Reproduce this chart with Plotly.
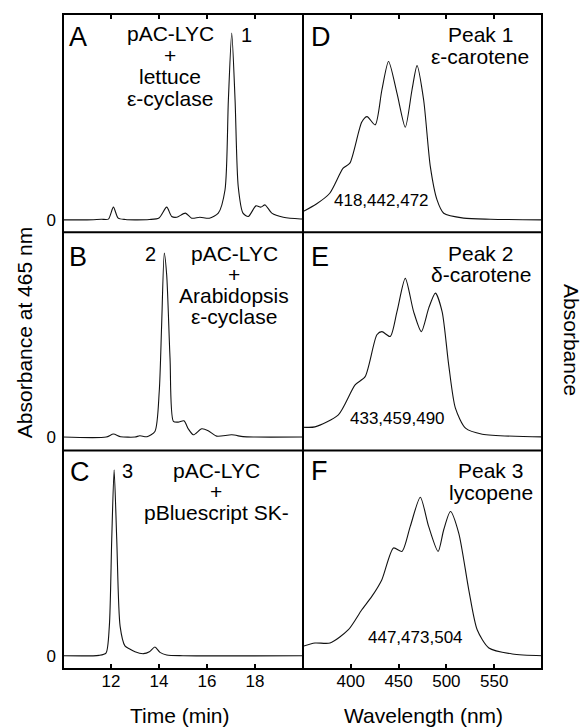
import plotly.graph_objects as go

# ---------------- data ----------------
# HPLC chromatograms (time in min, absorbance at 465 nm, relative)
time_A = [10.0, 11.0, 11.6, 11.89, 12.1, 12.3, 12.6, 13.0, 13.6, 14.0, 14.32, 14.53, 14.74, 15.1, 15.36, 15.7,
          16.1, 16.47, 16.75, 16.89, 17.03, 17.17, 17.3, 17.5, 17.72, 18.04, 18.24, 18.42, 18.7, 19.18, 19.9, 20.0]
abs_A = [0.0, 0.0, 0.003, 0.004, 0.068, 0.009, 0.002, 0.0, 0.002, 0.01, 0.068, 0.018, 0.014, 0.036, 0.009, 0.014,
         0.009, 0.036, 0.16, 0.64, 1.0, 0.64, 0.18, 0.036, 0.018, 0.075, 0.068, 0.08, 0.036, 0.014, 0.005, 0.005]

time_B = [10.0, 11.8, 12.1, 12.4, 13.0, 13.2, 13.5, 13.83, 14.01, 14.11, 14.22, 14.32, 14.46, 14.6, 14.8, 15.04,
          15.22, 15.43, 15.78, 16.05, 16.4, 17.03, 17.5, 18.0, 20.0]
abs_B = [0.0, 0.0, 0.016, 0.002, 0.0, 0.007, 0.002, 0.03, 0.244, 0.60, 0.984, 0.868, 0.42, 0.084, 0.08, 0.087,
         0.044, 0.012, 0.044, 0.034, 0.005, 0.012, 0.002, 0.0, 0.0]

time_C = [10.0, 11.5, 11.79, 11.93, 12.03, 12.13, 12.24, 12.38, 12.58, 12.78, 13.0, 13.35, 13.6, 13.83, 14.04,
          14.32, 15.0, 20.0]
abs_C = [0.0, 0.002, 0.014, 0.157, 0.62, 0.995, 0.62, 0.157, 0.053, 0.036, 0.021, 0.011, 0.021, 0.047, 0.018,
         0.004, 0.0, 0.0]

# absorption spectra (wavelength in nm, normalised absorbance)
wl_D = [350, 364, 378, 392, 399, 411.5, 417, 425.5, 432.5, 439.5, 448.3, 457, 464, 469.3, 476.2, 483.2, 490.2,
        497.2, 518, 546, 600]
spec_D = [0.052, 0.10, 0.168, 0.326, 0.358, 0.618, 0.652, 0.60, 0.82, 1.0, 0.80, 0.585, 0.82, 0.974, 0.757,
          0.336, 0.126, 0.042, 0.011, 0.004, 0.0]

wl_E = [350, 362.5, 387, 404.5, 415, 427.3, 432.5, 441.2, 448.3, 457, 465.7, 473.8, 481.5, 488.5, 495.5, 502.4,
        509.4, 520, 537.5, 600]
spec_E = [0.061, 0.063, 0.139, 0.328, 0.38, 0.644, 0.664, 0.633, 0.79, 1.0, 0.79, 0.664, 0.812, 0.907, 0.79,
          0.454, 0.181, 0.055, 0.017, 0.0]

wl_F = [350, 362.5, 378.3, 397.5, 411.5, 422, 432.5, 444.7, 453.5, 462.2, 472.7, 481.4, 491.3, 497.2, 504.2,
        512.9, 523.4, 532.2, 544.4, 569, 600]
spec_F = [0.059, 0.08, 0.08, 0.164, 0.29, 0.374, 0.48, 0.68, 0.658, 0.816, 1.0, 0.816, 0.658, 0.795, 0.91,
          0.774, 0.416, 0.164, 0.049, 0.011, 0.0]

time_ticks = [12, 14, 16, 18]
wl_ticks = [400, 450, 500, 550]

panel_letters = ["A", "B", "C", "D", "E", "F"]
constructs = [["pAC-LYC", "+", "lettuce", "ε-cyclase"],
              ["pAC-LYC", "+", "Arabidopsis", "ε-cyclase"],
              ["pAC-LYC", "+", "pBluescript SK-"]]
peak_ids = ["1", "2", "3"]
peak_names = [["Peak 1", "ε-carotene"], ["Peak 2", "δ-carotene"], ["Peak 3", "lycopene"]]
maxima = ["418,442,472", "433,459,490", "447,473,504"]

# ---------------- layout geometry (pixels) ----------------
W, H = 583, 727
L, R, T, B = 62.7, 541.7, 14.0, 669.3
XMID = 302.7
ROWS = [(14.0, 232.3), (232.3, 450.7), (450.7, 669.3)]
PW, PH = R - L, B - T


def px(x):
    return (x - L) / PW


def py(y):
    return (B - y) / PH


FONT = "Liberation Sans, Arial, sans-serif"

fig = go.Figure()

left_data = [(time_A, abs_A), (time_B, abs_B), (time_C, abs_C)]
right_data = [(wl_D, spec_D), (wl_E, spec_E), (wl_F, spec_F)]
left_ranges = [[-0.066, 1.102], [-0.072, 1.096], [-0.071, 1.098]]
right_ranges = [[-0.078, 1.30], [-0.086, 1.291], [-0.084, 1.295]]

line_style = dict(color="#111111", width=1.1, shape="spline", smoothing=0.7)

for i in range(3):
    li = 2 * i + 1
    ri = 2 * i + 2
    xa_l = "x" if li == 1 else f"x{li}"
    ya_l = "y" if li == 1 else f"y{li}"
    xa_r, ya_r = f"x{ri}", f"y{ri}"
    fig.add_trace(go.Scatter(x=left_data[i][0], y=left_data[i][1], mode="lines", line=line_style,
                             xaxis=xa_l, yaxis=ya_l, showlegend=False, hoverinfo="skip"))
    fig.add_trace(go.Scatter(x=right_data[i][0], y=right_data[i][1], mode="lines", line=line_style,
                             xaxis=xa_r, yaxis=ya_r, showlegend=False, hoverinfo="skip"))

    ydom = [py(ROWS[i][1]), py(ROWS[i][0])]
    common_x = dict(showgrid=False, zeroline=False, showline=False, ticklen=5, tickwidth=1.5,
                    tickcolor="black", tickfont=dict(family=FONT, size=17, color="black"))
    if i == 0:
        xt = dict(side="top", ticks="inside", showticklabels=False)
    elif i == 2:
        xt = dict(side="bottom", ticks="inside", showticklabels=True)
    else:
        xt = dict(ticks="", showticklabels=False)

    layout_upd = {}
    xl_name = "xaxis" if li == 1 else f"xaxis{li}"
    yl_name = "yaxis" if li == 1 else f"yaxis{li}"
    layout_upd[xl_name] = dict(domain=[0, px(XMID)], range=[10, 20], tickvals=time_ticks,
                               anchor=ya_l, **common_x, **xt)
    layout_upd[yl_name] = dict(domain=ydom, range=left_ranges[i], tickvals=[0], ticktext=["0"],
                               showgrid=False, zeroline=False, showline=False, ticks="",
                               ticklabelstandoff=6,
                               tickfont=dict(family=FONT, size=17, color="black"), anchor=xa_l)
    layout_upd[f"xaxis{ri}"] = dict(domain=[px(XMID), 1], range=[350, 600], tickvals=wl_ticks,
                                    anchor=ya_r, **common_x, **xt)
    layout_upd[f"yaxis{ri}"] = dict(domain=ydom, range=right_ranges[i], showticklabels=False,
                                    showgrid=False, zeroline=False, showline=False, ticks="", anchor=xa_r)
    fig.update_layout(**layout_upd)

# ---------------- frame ----------------
shapes = [dict(type="rect", xref="paper", yref="paper", x0=0, x1=1, y0=0, y1=1,
               line=dict(color="black", width=2)),
          dict(type="line", xref="paper", yref="paper", x0=px(XMID), x1=px(XMID), y0=0, y1=1,
               line=dict(color="black", width=2))]
for yb in (232.3, 450.7):
    shapes.append(dict(type="line", xref="paper", yref="paper", x0=0, x1=1, y0=py(yb), y1=py(yb),
                       line=dict(color="black", width=2)))
fig.update_layout(shapes=shapes)

# ---------------- text ----------------
ann = []


def text(s, x, y, size=21, xanchor="center", angle=0):
    ann.append(dict(text=s, x=px(x), y=py(y), xref="paper", yref="paper", showarrow=False,
                    xanchor=xanchor, yanchor="middle", textangle=angle,
                    font=dict(family=FONT, size=size, color="black")))


letter_pos = [(68.3, 37), (68.3, 256.7), (69.3, 472.5), (310, 36.7), (310, 256.7), (310, 471.7)]
for s, (x, y) in zip(panel_letters, letter_pos):
    text(s, x - 1.5, y, size=27, xanchor="left")

construct_pos = [(170, [33.3, 56, 76.5, 99]),
                 (234, [254, 275, 296, 317]),
                 (216, [470.3, 491.5, 512.8])]
for lines, (x, ys) in zip(constructs, construct_pos):
    for s, y in zip(lines, ys):
        text(s, x, y, size=21)

peak_pos = [(246.3, 35), (150, 254), (126.7, 471)]
for s, (x, y) in zip(peak_ids, peak_pos):
    text(s, x, y, size=20)

name_pos = [(480, [35, 56.7]), (480.5, [253.3, 275]), (490.5, [470.5, 492.5])]
for lines, (x, ys) in zip(peak_names, name_pos):
    for s, y in zip(lines, ys):
        text(s, x, y, size=21)

max_pos = [(381.7, 200.7), (397.5, 419), (415, 637.3)]
for s, (x, y) in zip(maxima, max_pos):
    text(s, x, y, size=17)

text("Time (min)", 180, 716, size=21)
text("Wavelength (nm)", 423.3, 716, size=21)
text("Absorbance at 465 nm", 25, 333, size=21, angle=-90)
text("Absorbance", 570.5, 340, size=21, angle=90)

fig.update_layout(annotations=ann, width=W, height=H,
                  margin=dict(l=L, r=W - R, t=T, b=H - B, pad=0),
                  paper_bgcolor="white", plot_bgcolor="white")

fig.write_html("out.html", config={"displayModeBar": False},
               post_script="document.body.style.margin='0';document.body.style.padding='0';"
                           "document.body.style.overflow='hidden';")
